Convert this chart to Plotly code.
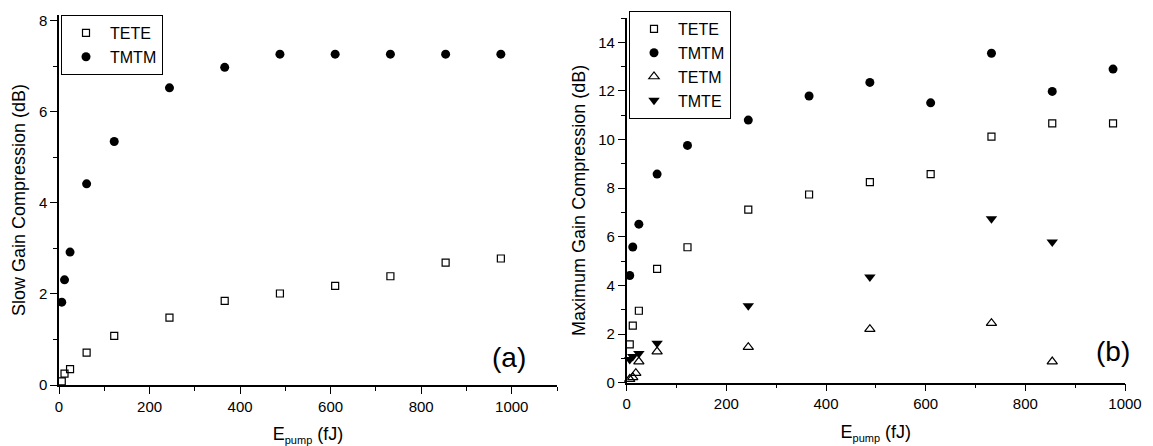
import plotly.graph_objects as go

# ---- data ----
e_pump = [6.1, 12.2, 24.4, 61, 122, 244, 366, 488, 610, 732, 854, 976]

slow_tete = [0.08, 0.25, 0.35, 0.71, 1.08, 1.48, 1.85, 2.01, 2.18, 2.39, 2.69, 2.78]
slow_tmtm = [1.82, 2.31, 2.92, 4.42, 5.35, 6.53, 6.98, 7.27, 7.27, 7.27, 7.27, 7.27]

max_tete = [1.58, 2.35, 2.96, 4.68, 5.57, 7.12, 7.74, 8.25, 8.58, 10.12, 10.67, 10.67]
max_tmtm = [4.41, 5.58, 6.52, 8.58, 9.76, 10.80, 11.79, 12.35, 11.51, 13.55, 11.98, 12.90]

tetm_x = [6.1, 12.2, 18.3, 24.4, 61, 244, 488, 732, 854]
tetm_y = [0.15, 0.22, 0.39, 0.87, 1.28, 1.46, 2.20, 2.45, 0.87]

tmte_x = [6.1, 12.2, 24.4, 61, 244, 488, 732, 854]
tmte_y = [0.95, 1.08, 1.20, 1.62, 3.16, 4.35, 6.74, 5.79]

FONT = "Liberation Sans, Arial, sans-serif"
W, H = 1153, 446

fig = go.Figure()

sq = dict(symbol="square-open", size=7, color="black", line=dict(color="black", width=1.2))
ci = dict(symbol="circle", size=9, color="black", line=dict(width=0))
tu = dict(symbol="triangle-up-open", size=9, color="black", line=dict(color="black", width=1.2))
td = dict(symbol="triangle-down", size=10, color="black", line=dict(width=0))

fig.add_trace(go.Scatter(x=e_pump, y=slow_tete, mode="markers", name="TETE", marker=sq,
                         xaxis="x", yaxis="y", legend="legend", cliponaxis=False))
fig.add_trace(go.Scatter(x=e_pump, y=slow_tmtm, mode="markers", name="TMTM", marker=ci,
                         xaxis="x", yaxis="y", legend="legend", cliponaxis=False))

fig.add_trace(go.Scatter(x=e_pump, y=max_tete, mode="markers", name="TETE", marker=sq,
                         xaxis="x2", yaxis="y2", legend="legend2", cliponaxis=False))
fig.add_trace(go.Scatter(x=e_pump, y=max_tmtm, mode="markers", name="TMTM", marker=ci,
                         xaxis="x2", yaxis="y2", legend="legend2", cliponaxis=False))
fig.add_trace(go.Scatter(x=tetm_x, y=tetm_y, mode="markers", name="TETM", marker=tu,
                         xaxis="x2", yaxis="y2", legend="legend2", cliponaxis=False))
fig.add_trace(go.Scatter(x=tmte_x, y=tmte_y, mode="markers", name="TMTE", marker=td,
                         xaxis="x2", yaxis="y2", legend="legend2", cliponaxis=False))

def px_x(p):
    return p / W

def px_y(p):
    return 1 - p / H

axis_common = dict(
    showline=True, linecolor="black", linewidth=1.5, mirror=False,
    showgrid=False, zeroline=False,
    ticks="outside", ticklen=7, tickwidth=1.3, tickcolor="black",
    tickfont=dict(family=FONT, size=15, color="black"),
    minor=dict(ticks="outside", ticklen=4, tickwidth=1.3, tickcolor="black", showgrid=False),
    automargin=False,
)

title_font = dict(family=FONT, size=18, color="black")
legend_font = dict(family=FONT, size=16, color="black")
x_title = "E<sub><span style='font-size:11px'>pump</span></sub> (fJ)"

fig.update_layout(
    width=W, height=H,
    margin=dict(l=0, r=0, t=0, b=0),
    paper_bgcolor="white", plot_bgcolor="white",
    font=dict(family=FONT, color="black"),
    xaxis=dict(axis_common, domain=[px_x(59), px_x(557)], range=[0, 1100], dtick=200,
               anchor="y", minor=dict(axis_common["minor"], dtick=100),
               title=dict(text=x_title, font=title_font, standoff=14)),
    yaxis=dict(axis_common, domain=[px_y(385), px_y(15)], range=[0, 8.13], dtick=2,
               anchor="x", minor=dict(axis_common["minor"], dtick=1),
               title=dict(text="Slow Gain Compression (dB)", font=title_font, standoff=9)),
    xaxis2=dict(axis_common, domain=[px_x(626.7), px_x(1125)], range=[0, 1000], dtick=200,
                anchor="y2", minor=dict(axis_common["minor"], dtick=100),
                title=dict(text=x_title, font=title_font, standoff=14)),
    yaxis2=dict(axis_common, domain=[px_y(382.7), px_y(18)], range=[0, 15], dtick=2,
                anchor="x2", minor=dict(axis_common["minor"], dtick=1),
                title=dict(text="Maximum Gain Compression (dB)", font=title_font, standoff=8)),
    legend=dict(x=px_x(61), y=px_y(15), xanchor="left", yanchor="top",
                bordercolor="black", borderwidth=1, bgcolor="white",
                font=legend_font, tracegroupgap=0, itemwidth=38),
    legend2=dict(x=px_x(629), y=px_y(11), xanchor="left", yanchor="top",
                 bordercolor="black", borderwidth=1, bgcolor="white",
                 font=legend_font, tracegroupgap=0, itemwidth=38),
    showlegend=True,
    annotations=[
        dict(text="(a)", xref="paper", yref="paper", x=px_x(528), y=px_y(357),
             xanchor="right", yanchor="middle",
             showarrow=False, font=dict(family=FONT, size=28, color="black")),
        dict(text="(b)", xref="paper", yref="paper", x=px_x(1132), y=px_y(351),
             xanchor="right", yanchor="middle",
             showarrow=False, font=dict(family=FONT, size=28, color="black")),
    ],
)

fig.write_html("out.html", config={"displayModeBar": False},
               post_script="document.body.style.margin='0';document.body.style.padding='0';")
